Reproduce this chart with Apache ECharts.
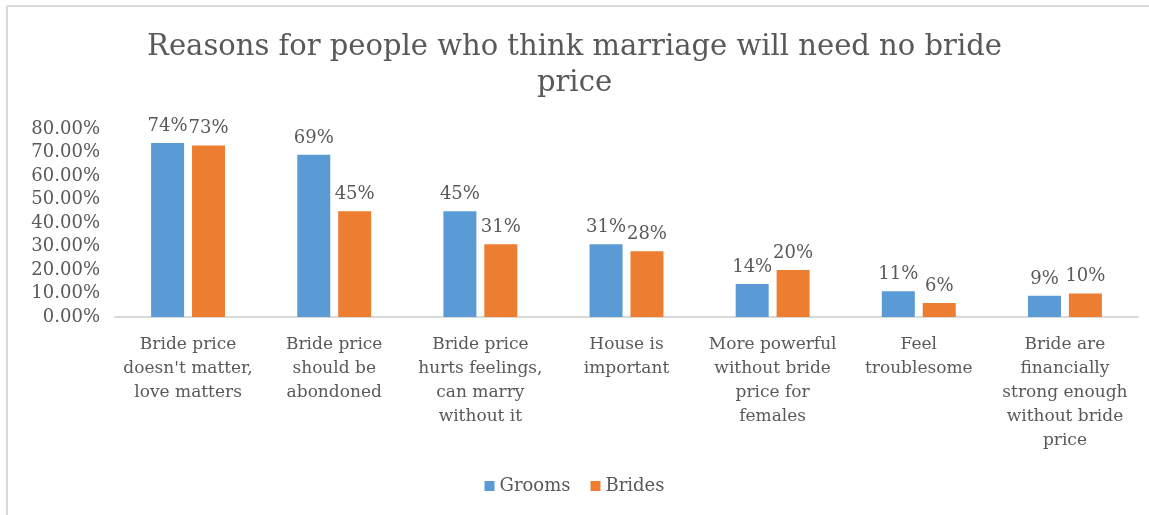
<!DOCTYPE html>
<html>
<head>
<meta charset="utf-8">
<script src="https://cdn.jsdelivr.net/npm/echarts@6/dist/echarts.min.js"></script>
<style>html,body{margin:0;padding:0;background:#fff}#c{width:1149px;height:515px}</style>
</head>
<body>
<div id="c"></div>
<script>
var categories = [
  "Bride price\ndoesn't matter,\nlove matters",
  "Bride price\nshould be\nabondoned",
  "Bride price\nhurts feelings,\ncan marry\nwithout it",
  "House is\nimportant",
  "More powerful\nwithout bride\nprice for\nfemales",
  "Feel\ntroublesome",
  "Bride are\nfinancially\nstrong enough\nwithout bride\nprice"
];
var grooms = [74, 69, 45, 31, 14, 11, 9];
var brides = [73, 45, 31, 28, 20, 6, 10];
var yTicks = [0, 10, 20, 30, 40, 50, 60, 70, 80];

var FONT = "DejaVu Serif";
var TXT = "#595959";
var chart = echarts.init(document.getElementById('c'));
chart.setOption({
  animation: false,
  textStyle: {fontFamily: FONT},
  title: {
    text: "Reasons for people who think marriage will need no bride\nprice",
    left: 'center', top: 24,
    textStyle: {fontFamily: FONT, fontSize: 29, fontWeight: 'normal', color: TXT, lineHeight: 36}
  },
  legend: {
    bottom: 15, left: 'center',
    itemWidth: 10, itemHeight: 10, itemGap: 20,
    icon: 'rect',
    textStyle: {fontFamily: FONT, fontSize: 18, color: TXT},
    data: ['Grooms', 'Brides']
  },
  grid: {left: 115, right: 11, top: 129, bottom: 198, containLabel: false},
  xAxis: {
    type: 'category', data: categories,
    axisLine: {lineStyle: {color: '#d9d9d9', width: 2}},
    axisTick: {show: false},
    axisLabel: {interval: 0, margin: 16, fontFamily: FONT, fontSize: 17, color: TXT, lineHeight: 24}
  },
  yAxis: {
    type: 'value', min: yTicks[0], max: yTicks[yTicks.length - 1], interval: 10,
    splitLine: {show: false},
    axisLine: {show: false}, axisTick: {show: false},
    axisLabel: {fontFamily: FONT, fontSize: 18, color: TXT, margin: 15,
      formatter: function (v) { return v.toFixed(2) + '%'; }}
  },
  series: [
    {name: 'Grooms', type: 'bar', data: grooms, barWidth: 33, barGap: '24%',
      itemStyle: {color: '#5b9bd5'},
      label: {show: true, position: 'top', distance: 8, fontFamily: FONT, fontSize: 18, color: TXT,
        formatter: function (p) { return p.value + '%'; }}},
    {name: 'Brides', type: 'bar', data: brides, barWidth: 33,
      itemStyle: {color: '#ed7d31'},
      label: {show: true, position: 'top', distance: 8, fontFamily: FONT, fontSize: 18, color: TXT,
        formatter: function (p) { return p.value + '%'; }}}
  ],
  graphic: [
    {type: 'line', shape: {x1: 7, y1: 6, x2: 7, y2: 515}, style: {stroke: '#d9d9d9', lineWidth: 2}},
    {type: 'line', shape: {x1: 7, y1: 6, x2: 1149, y2: 6}, style: {stroke: '#d9d9d9', lineWidth: 2}}
  ]
});
</script>
</body>
</html>
